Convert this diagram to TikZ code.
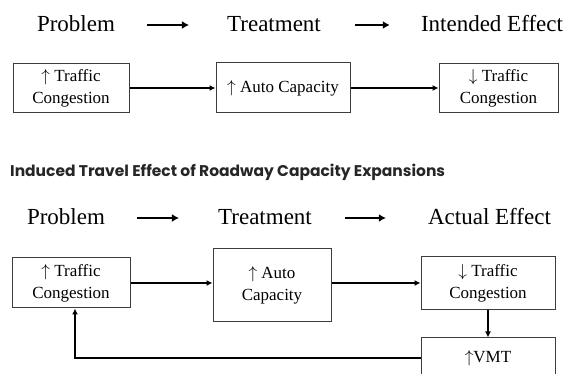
\documentclass[tikz,border=0pt]{standalone}
\usepackage{fontspec}
\setmainfont{Liberation Serif}
\newfontfamily\titlefont{Poppins}
\usepackage{tikz}
\usetikzlibrary{arrows.meta,positioning}
\definecolor{boxline}{RGB}{60,60,60}

\tikzset{
	hdr/.style={font=\fontsize{23}{26}\selectfont, inner sep=0pt},
	hdrarrow/.style={line width=2pt, -{Latex[length=7pt,width=8pt]}},
	stepbox/.style={draw=boxline, line width=1pt, align=center, inner sep=2pt,
		font=\fontsize{17}{22}\selectfont},
	conn/.style={line width=1.5pt, -{Latex[length=6pt,width=6pt]}}
}

\begin{document}
\begin{tikzpicture}[x=1pt,y=-1pt]
	\useasboundingbox (0,0) rectangle (571,374);
	\clip (0,0) rectangle (571,374);

	% intended effect
	\node[hdr] (p1) at (76,24) {Problem};
	\node[hdr] (t1) at (274,24) {Treatment};
	\node[hdr] (e1) at (492,24) {Intended Effect};
	\draw[hdrarrow] ([xshift=32pt,yshift=-1pt]p1.east) -- ([xshift=-38pt,yshift=-1pt]t1.west);
	\draw[hdrarrow] ([xshift=34pt,yshift=-1pt]t1.east) -- ([xshift=-31pt,yshift=-1pt]e1.west);

	\node[stepbox, minimum width=116pt, minimum height=49pt] (tb1) at (71,88) {$\uparrow$ Traffic\\Congestion};
	\node[stepbox, minimum width=134pt, minimum height=50pt] (tb2) at (283,88) {$\uparrow$ Auto Capacity};
	\node[stepbox, minimum width=119pt, minimum height=49pt] (tb3) at (498.5,88) {$\downarrow$ Traffic\\Congestion};
	\draw[conn] (tb1) -- (tb2);
	\draw[conn] (tb2) -- (tb3);

	% actual effect
	\node[anchor=west, inner sep=0pt, text=black!85, font=\titlefont\bfseries\fontsize{15.5}{18}\selectfont] (title) at (10,172)
		{Induced Travel Effect of Roadway Capacity Expansions};

	\node[hdr] (p2) at (66,217) {Problem};
	\node[hdr] (t2) at (265,217) {Treatment};
	\node[hdr] (e2) at (489.5,217) {Actual Effect};
	\draw[hdrarrow] ([xshift=32pt,yshift=-1pt]p2.east) -- ([xshift=-39pt,yshift=-1pt]t2.west);
	\draw[hdrarrow] ([xshift=33pt,yshift=-1pt]t2.east) -- ([xshift=-42pt,yshift=-1pt]e2.west);

	\node[stepbox, minimum width=118pt, minimum height=50pt] (lb1) at (71,283) {$\uparrow$ Traffic\\Congestion};
	\node[stepbox, minimum width=118pt, minimum height=73pt] (lb2) at (272,285.5) {$\uparrow$ Auto\\Capacity};
	\node[stepbox, minimum width=134pt, minimum height=53pt] (lb3) at (488,283.5) {$\downarrow$ Traffic\\Congestion};
	\node[stepbox, minimum width=134pt, minimum height=40pt] (vmt) at (488,358) {$\uparrow$VMT};
	\draw[conn] (lb1.east) -- (lb1.east -| lb2.west);
	\draw[conn] (lb1.east -| lb2.east) -- (lb1.east -| lb3.west);
	\draw[conn] (lb3) -- (vmt);
	\draw[conn] (vmt.west) -| ([xshift=4pt]lb1.south);
\end{tikzpicture}
\end{document}
